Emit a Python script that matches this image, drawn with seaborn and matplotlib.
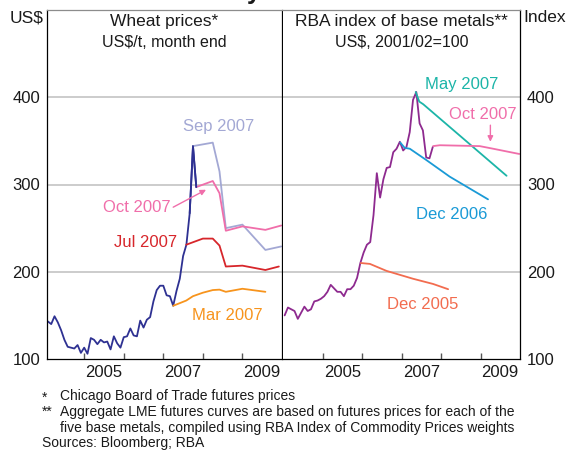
import matplotlib.pyplot as plt
import numpy as np
import pandas as pd
import seaborn as sns
from matplotlib.ticker import FixedLocator

# Wheat spot prices, month end, Jan 2004 - Oct 2007 (US$/t)
wheat_spot = [
    143, 140, 149, 142, 133, 122, 114, 113, 112, 116, 107, 113,
    106, 124, 122, 117, 122, 119, 120, 111, 126, 118, 113, 125,
    126, 135, 127, 126, 144, 136, 145, 148, 166, 179, 184, 184,
    173, 172, 161, 178, 192, 218, 231, 267, 344, 297,
]

# Wheat futures curves (contract date as decimal year, US$/t)
wheat_mar07_x = [2007.25, 2007.58, 2007.75, 2008.0, 2008.25, 2008.42, 2008.58, 2009.0, 2009.58]
wheat_mar07 = [161, 167, 172, 176, 179, 179.5, 177, 180.5, 177]
wheat_jul07_x = [2007.58, 2008.0, 2008.25, 2008.42, 2008.58, 2009.0, 2009.58, 2009.92]
wheat_jul07 = [231, 238, 238, 230, 206, 207, 202, 206]
wheat_sep07_x = [2007.75, 2008.25, 2008.42, 2008.58, 2009.0, 2009.58, 2009.98]
wheat_sep07 = [344, 348, 315, 250, 254, 225, 229]
wheat_oct07_x = [2007.83, 2008.25, 2008.42, 2008.58, 2009.0, 2009.58, 2009.98]
wheat_oct07 = [297, 304, 290, 247, 252, 248, 253]

# RBA base metals index, monthly, Jan 2004 - Oct 2007 (2001/02=100)
metals_spot = [
    150, 159, 157, 155, 146, 153, 160, 155, 157, 166, 167, 169,
    172, 177, 185, 181, 177, 177, 172, 180, 180, 184, 193, 210,
    222, 231, 234, 265, 313, 285, 306, 319, 320, 337, 341, 349,
    339, 343, 360, 397, 406, 370, 362, 331, 330, 343,
]

# Aggregate LME futures curves
metals_dec05_x = [2005.97, 2006.2, 2006.62, 2007.29, 2007.8, 2008.18]
metals_dec05 = [210, 209, 201, 192, 186, 180]
metals_dec06_x = [2006.97, 2007.08, 2007.21, 2007.63, 2008.22, 2009.19]
metals_dec06 = [348, 342, 341, 328, 309, 283]
metals_may07_x = [2007.36, 2007.45, 2007.55, 2009.66]
metals_may07 = [406, 395, 392, 310]
metals_oct07_x = [2007.8, 2007.97, 2008.98, 2009.32, 2009.98]
metals_oct07 = [344, 345, 344, 341, 335]

NAVY = "#2e3192"
PURPLE = "#8e2a8f"
C_MAR07 = "#f7941d"
C_JUL07 = "#d7262b"
C_SEP07 = "#a3a8d4"
C_OCT07 = "#f06eaa"
C_DEC05 = "#f26c4f"
C_DEC06 = "#1a9ad6"
C_MAY07 = "#1cb5a8"

sns.set_theme(style="white")
plt.rcParams["font.family"] = ["Liberation Sans", "DejaVu Sans"]

fig = plt.figure(figsize=(5.69, 4.5), dpi=100)
W, H = 569, 450
ax1 = fig.add_axes([47 / W, 1 - 359 / H, 235 / W, 349 / H])
ax2 = fig.add_axes([283 / W, 1 - 359 / H, 237 / W, 349 / H])

wheat_dates = 2004 + (np.arange(len(wheat_spot)) + 1) / 12
metals_dates = 2004 + (np.arange(len(metals_spot)) + 0.5) / 12

lw = 1.3

# Wheat panel
sns.lineplot(x=wheat_dates, y=wheat_spot, color=NAVY, lw=lw, ax=ax1)
for xs, ys, c in [
    (wheat_mar07_x, wheat_mar07, C_MAR07),
    (wheat_jul07_x, wheat_jul07, C_JUL07),
    (wheat_sep07_x, wheat_sep07, C_SEP07),
    (wheat_oct07_x, wheat_oct07, C_OCT07),
]:
    sns.lineplot(x=xs, y=ys, color=c, lw=lw, ax=ax1)
sns.lineplot(x=wheat_dates[-3:], y=wheat_spot[-3:], color=NAVY, lw=lw, ax=ax1)

# Metals panel
sns.lineplot(x=metals_dates, y=metals_spot, color=PURPLE, lw=lw, ax=ax2)
for xs, ys, c in [
    (metals_dec05_x, metals_dec05, C_DEC05),
    (metals_dec06_x, metals_dec06, C_DEC06),
    (metals_may07_x, metals_may07, C_MAY07),
    (metals_oct07_x, metals_oct07, C_OCT07),
]:
    sns.lineplot(x=xs, y=ys, color=c, lw=lw, ax=ax2)

ax1.set_xlim(2004.06, 2010)
ax2.set_xlim(2004.0, 2010)

for ax in (ax1, ax2):
    ax.set_ylim(100, 500)
    ax.set_xlabel("")
    ax.set_ylabel("")
    for y in (200, 300, 400):
        ax.axhline(y, color="#c8c8c8", lw=1.3, zorder=0)
    ax.xaxis.set_major_locator(FixedLocator([2005, 2006, 2007, 2008, 2009]))
    ax.xaxis.set_minor_locator(FixedLocator([2005.5, 2007.5, 2009.5]))
    ax.set_xticklabels([])
    ax.set_xticklabels(["2005", "2007", "2009"], minor=True)
    ax.tick_params(axis="x", which="major", direction="in", length=4,
                   width=1, color="#555555", bottom=True)
    ax.tick_params(axis="x", which="minor", length=0, pad=4.5,
                   labelsize=12, colors="#1a1a1a", bottom=True)
    ax.set_yticks([100, 200, 300, 400])
    for side in ("left", "right", "bottom"):
        ax.spines[side].set_color("black")
        ax.spines[side].set_linewidth(0.9)
    ax.spines["top"].set_color("#8c8c8c")
    ax.spines["top"].set_linewidth(0.9)

ax1.tick_params(axis="y", length=0, pad=5, labelsize=12, colors="#1a1a1a")
ax2.yaxis.tick_right()
ax2.tick_params(axis="y", length=0, pad=5, labelsize=12, colors="#1a1a1a",
                left=False, labelleft=False, right=True, labelright=True)
ax2.spines["left"].set_visible(False)

ax1.text(-0.015, 1.0, "US$", transform=ax1.transAxes, ha="right", va="top",
         fontsize=12.5, color="#1a1a1a")
ax2.text(1.015, 1.0, "Index", transform=ax2.transAxes, ha="left", va="top",
         fontsize=12.5, color="#1a1a1a")

ax1.text(0.5, 1 - 4 / 349, "Wheat prices*", transform=ax1.transAxes,
         ha="center", va="top", fontsize=12.5, color="#1a1a1a")
ax1.text(0.5, 1 - 25 / 349, "US$/t, month end", transform=ax1.transAxes,
         ha="center", va="top", fontsize=11.5, color="#1a1a1a")
ax2.text(0.5, 1 - 4 / 349, "RBA index of base metals**", transform=ax2.transAxes,
         ha="center", va="top", fontsize=12.5, color="#1a1a1a")
ax2.text(0.5, 1 - 25 / 349, "US$, 2001/02=100", transform=ax2.transAxes,
         ha="center", va="top", fontsize=11.5, color="#1a1a1a")

# Curve labels
lab = dict(ha="center", va="center", fontsize=12)
ax1.text(2008.41, 366, "Sep 2007", color=C_SEP07, **lab)
ax1.text(2006.33, 274, "Oct 2007", color=C_OCT07, **lab)
ax1.text(2006.54, 234, "Jul 2007", color=C_JUL07, **lab)
ax1.text(2008.61, 150, "Mar 2007", color=C_MAR07, **lab)
ax1.annotate("", xy=(2008.08, 294), xytext=(2007.25, 274),
             arrowprops=dict(arrowstyle="-|>", color=C_OCT07, lw=1,
                             mutation_scale=8, shrinkA=0, shrinkB=0))

ax2.text(2008.53, 415, "May 2007", color=C_MAY07, **lab)
ax2.text(2009.06, 380, "Oct 2007", color=C_OCT07, **lab)
ax2.text(2008.28, 266, "Dec 2006", color=C_DEC06, **lab)
ax2.text(2007.54, 162, "Dec 2005", color=C_DEC05, **lab)
ax2.annotate("", xy=(2009.25, 349), xytext=(2009.25, 368),
             arrowprops=dict(arrowstyle="-|>", color=C_OCT07, lw=1,
                             mutation_scale=8, shrinkA=0, shrinkB=0))

# Title fragment cut off at the top edge
fig.text(254 / W, 1 + 1 / H, "y", ha="center", va="baseline",
         fontsize=18, fontweight="bold", color="#1a1a1a")

# Footnotes
foot = dict(fontsize=10, color="#1a1a1a", va="center")
fig.text(42 / W, 1 - 398 / H, "*", **foot)
fig.text(60 / W, 1 - 396 / H, "Chicago Board of Trade futures prices", **foot)
fig.text(42 / W, 1 - 412 / H, "**", **foot)
fig.text(60 / W, 1 - 412 / H,
         "Aggregate LME futures curves are based on futures prices for each of the", **foot)
fig.text(60 / W, 1 - 428 / H,
         "five base metals, compiled using RBA Index of Commodity Prices weights", **foot)
fig.text(42 / W, 1 - 443 / H, "Sources: Bloomberg; RBA", **foot)

fig.savefig("out.png", dpi=100)
